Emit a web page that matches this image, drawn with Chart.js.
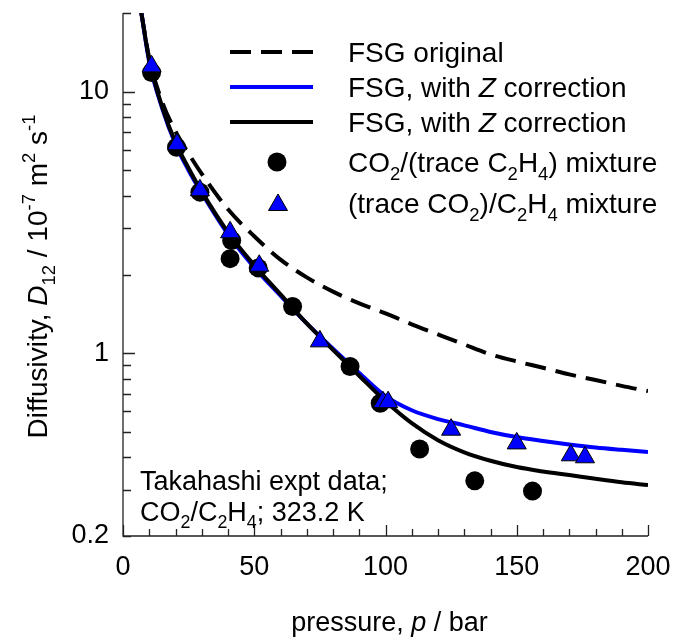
<!DOCTYPE html>
<html>
<head>
<meta charset="utf-8">
<script src="https://cdn.jsdelivr.net/npm/chart.js@4.4.1/dist/chart.umd.min.js"></script>
<style>
  html, body { margin: 0; padding: 0; background: #fff; }
  #chart { display: block; }
</style>
</head>
<body>
<canvas id="chart" width="684" height="639"></canvas>
<script>
// pressure grid (bar) for the model curves
const curveP = [7, 10, 15, 20, 25, 30, 40, 50, 60, 70, 80, 90, 100, 110, 120, 130, 140, 150, 160, 170, 180, 190, 200];
// D12 in 1e-7 m2/s
const fsgOriginal = [20, 13.4, 9.1, 7.05, 5.8, 4.85, 3.55, 2.8, 2.28, 1.95, 1.72, 1.55, 1.42, 1.29, 1.18, 1.08, 0.99, 0.93, 0.88, 0.83, 0.79, 0.75, 0.716];
const fsgZBlue = [20, 13.0, 8.6, 6.3, 5.0, 4.1, 2.85, 2.13, 1.66, 1.30, 1.04, 0.84, 0.685, 0.605, 0.56, 0.53, 0.50, 0.478, 0.462, 0.448, 0.436, 0.427, 0.419];
const fsgZBlack = [20, 13.2, 8.7, 6.4, 5.1, 4.15, 2.9, 2.17, 1.68, 1.30, 1.03, 0.82, 0.655, 0.54, 0.465, 0.418, 0.388, 0.367, 0.353, 0.342, 0.331, 0.321, 0.313];

// Takahashi measurements
const co2MixP = [10.9, 20.4, 29.3, 40.8, 41.4, 51.5, 64.6, 86.5, 98, 113, 134, 156];
const co2MixD = [11.85, 6.13, 4.13, 2.30, 2.70, 2.12, 1.51, 0.89, 0.644, 0.43, 0.325, 0.297];
const c2h4MixP = [10.9, 20.6, 29.3, 40.8, 51.9, 75, 99, 101, 125, 150, 170.6, 176];
const c2h4MixD = [12.5, 6.3, 4.2, 2.9, 2.16, 1.11, 0.65, 0.65, 0.51, 0.452, 0.407, 0.40];

const yTickValues = [0.2, 0.3, 0.4, 0.5, 0.6, 0.7, 0.8, 0.9, 1, 2, 3, 4, 5, 6, 7, 8, 9, 10, 20];
const yTickLabels = ['0.2', '1', '10'];
const xTickValues = [0, 10, 20, 30, 40, 50, 60, 70, 80, 90, 100, 110, 120, 130, 140, 150, 160, 170, 180, 190, 200];
const xTickLabels = ['0', '50', '100', '150', '200'];

const FONT = '"Liberation Sans", Arial, sans-serif';
const BLUE = '#0000ff';
const LEGEND_SIZE = 28;
const TEXT_SIZE = 27;

function xy(xs, ys) {
  return xs.map((x, i) => ({ x: x, y: ys[i] }));
}

// text with italic / subscript / superscript runs: [text, kind]
function runFont(kind, size) {
  const s = (kind === 'sub' || kind === 'sup') ? size * 0.66 : size;
  return (kind === 'i' ? 'italic ' : '') + s + 'px ' + FONT;
}
function richWidth(ctx, parts, size) {
  let w = 0;
  parts.forEach(([t, k]) => { ctx.font = runFont(k, size); w += ctx.measureText(t).width; });
  return w;
}
function drawRich(ctx, parts, x, y, size) {
  ctx.textAlign = 'left';
  ctx.textBaseline = 'alphabetic';
  parts.forEach(([t, k]) => {
    ctx.font = runFont(k, size);
    let dy = 0;
    if (k === 'sub') dy = size * 0.27;
    if (k === 'sup') dy = -size * 0.42;
    ctx.fillText(t, x, y + dy);
    x += ctx.measureText(t).width;
  });
}

const legendRows = [
  { kind: 'dash', parts: [['FSG original', '']] },
  { kind: 'blue', parts: [['FSG, with ', ''], ['Z', 'i'], [' correction', '']] },
  { kind: 'black', parts: [['FSG, with ', ''], ['Z', 'i'], [' correction', '']] },
  { kind: 'circle', parts: [['CO', ''], ['2', 'sub'], ['/(trace C', ''], ['2', 'sub'], ['H', ''], ['4', 'sub'], [') mixture', '']] },
  { kind: 'tri', parts: [['(trace CO', ''], ['2', 'sub'], [')/C', ''], ['2', 'sub'], ['H', ''], ['4', 'sub'], [' mixture', '']] }
];

function drawTriangle(ctx, x, y, r) {
  ctx.beginPath();
  ctx.moveTo(x, y - r);
  ctx.lineTo(x + r * Math.sin(2 * Math.PI / 3), y + r / 2);
  ctx.lineTo(x - r * Math.sin(2 * Math.PI / 3), y + r / 2);
  ctx.closePath();
  ctx.fillStyle = BLUE;
  ctx.fill();
  ctx.lineWidth = 1;
  ctx.strokeStyle = '#000';
  ctx.stroke();
}

const decorations = {
  id: 'decorations',
  afterDraw(chart) {
    const ctx = chart.ctx;
    const xs = chart.scales.x, ys = chart.scales.y;
    const area = chart.chartArea;
    ctx.save();

    // axis frame (left and bottom only) with inward ticks
    ctx.strokeStyle = '#222';
    ctx.lineWidth = 1.3;
    ctx.beginPath();
    ctx.moveTo(area.left, area.top);
    ctx.lineTo(area.left, area.bottom);
    ctx.lineTo(area.right, area.bottom);
    xTickValues.forEach(v => {
      const px = Math.round(xs.getPixelForValue(v)) + 0.5;
      const len = v % 50 === 0 ? 11 : 7;
      ctx.moveTo(px, area.bottom);
      ctx.lineTo(px, area.bottom - len);
    });
    yTickValues.forEach(v => {
      const py = Math.round(ys.getPixelForValue(v)) + 0.5;
      const len = (v === 1 || v === 10) ? 12 : 8;
      ctx.moveTo(area.left, py);
      ctx.lineTo(area.left + len, py);
    });
    ctx.stroke();

    ctx.fillStyle = '#000';

    // axis titles, centred on their axes
    const xt = [['pressure, ', ''], ['p', 'i'], [' / bar', '']];
    drawRich(ctx, xt, (area.left + area.right) / 2 - richWidth(ctx, xt, TEXT_SIZE) / 2 + 4, 631, TEXT_SIZE);

    const yt = [['Diffusivity, ', ''], ['D', 'i'], ['12', 'sub'], [' / 10', ''], ['-7', 'sup'], [' m', ''], ['2', 'sup'], [' s', ''], ['-1', 'sup']];
    ctx.save();
    ctx.translate(31, (area.top + area.bottom) / 2 + 2);
    ctx.rotate(-Math.PI / 2);
    drawRich(ctx, yt, -richWidth(ctx, yt, LEGEND_SIZE) / 2, 16, LEGEND_SIZE);
    ctx.restore();

    // legend
    const lx0 = 230, lx1 = 313, tx = 348;
    const rowY = [52, 87, 122, 162, 203];
    legendRows.forEach((row, i) => {
      const y = rowY[i];
      ctx.save();
      if (row.kind === 'dash' || row.kind === 'blue' || row.kind === 'black') {
        ctx.beginPath();
        ctx.lineWidth = 4;
        ctx.strokeStyle = row.kind === 'blue' ? BLUE : '#000';
        ctx.setLineDash(row.kind === 'dash' ? [21, 10] : []);
        ctx.moveTo(lx0, y);
        ctx.lineTo(lx1, y);
        ctx.stroke();
      } else if (row.kind === 'circle') {
        ctx.beginPath();
        ctx.arc(277, y, 9.5, 0, Math.PI * 2);
        ctx.fillStyle = '#000';
        ctx.fill();
      } else {
        drawTriangle(ctx, 278, y + 2, 11);
      }
      ctx.restore();
      ctx.fillStyle = '#000';
      drawRich(ctx, row.parts, tx, y + 10, LEGEND_SIZE);
    });

    // annotation
    drawRich(ctx, [['Takahashi expt data;', '']], 140, 490, TEXT_SIZE);
    drawRich(ctx, [['CO', ''], ['2', 'sub'], ['/C', ''], ['2', 'sub'], ['H', ''], ['4', 'sub'], ['; 323.2 K', '']], 140, 521, TEXT_SIZE);

    ctx.restore();
  }
};

const curveStyle = { pointRadius: 0, borderWidth: 4, fill: false, cubicInterpolationMode: 'monotone' };

new Chart(document.getElementById('chart'), {
  type: 'scatter',
  data: {
    datasets: [
      // first listed is painted last
      { label: '(trace CO2)/C2H4 mixture', data: xy(c2h4MixP, c2h4MixD), pointStyle: 'triangle', pointRadius: 11,
        backgroundColor: BLUE, borderColor: '#000', borderWidth: 1, showLine: false },
      { label: 'CO2/(trace C2H4) mixture', data: xy(co2MixP, co2MixD), pointStyle: 'circle', pointRadius: 9.5,
        backgroundColor: '#000', borderColor: '#000', borderWidth: 0, showLine: false },
      Object.assign({ label: 'FSG, with Z correction', data: xy(curveP, fsgZBlack), showLine: true, borderColor: '#000' }, curveStyle),
      Object.assign({ label: 'FSG, with Z correction', data: xy(curveP, fsgZBlue), showLine: true, borderColor: BLUE }, curveStyle),
      Object.assign({ label: 'FSG original', data: xy(curveP, fsgOriginal), showLine: true, borderColor: '#000', borderDash: [21, 10] }, curveStyle)
    ]
  },
  options: {
    responsive: false,
    animation: false,
    layout: { padding: { top: 13, right: 36, left: 0, bottom: 0 } },
    plugins: { legend: { display: false }, tooltip: { enabled: false } },
    scales: {
      x: {
        type: 'linear', min: 0, max: 200,
        grid: { display: false, drawTicks: false },
        border: { display: false },
        afterBuildTicks: s => { s.ticks = xTickValues.map(v => ({ value: v })); },
        afterFit: s => { s.height = 103; s.paddingLeft = 0; s.paddingRight = 0; },
        ticks: {
          autoSkip: false, maxRotation: 0, padding: 15, color: '#000',
          font: { family: FONT, size: 27 },
          callback: v => xTickLabels.includes(String(v)) ? String(v) : ''
        }
      },
      y: {
        type: 'logarithmic', min: 0.2, max: 20,
        grid: { display: false, drawTicks: false },
        border: { display: false },
        afterBuildTicks: s => { s.ticks = yTickValues.map(v => ({ value: v })); },
        afterFit: s => { s.width = 123; s.paddingTop = 0; s.paddingBottom = 0; },
        ticks: {
          autoSkip: false, padding: 14, color: '#000',
          font: { family: FONT, size: 27 },
          callback: v => yTickLabels.includes(String(v)) ? String(v) : ''
        }
      }
    }
  },
  plugins: [decorations]
});
</script>
</body>
</html>
